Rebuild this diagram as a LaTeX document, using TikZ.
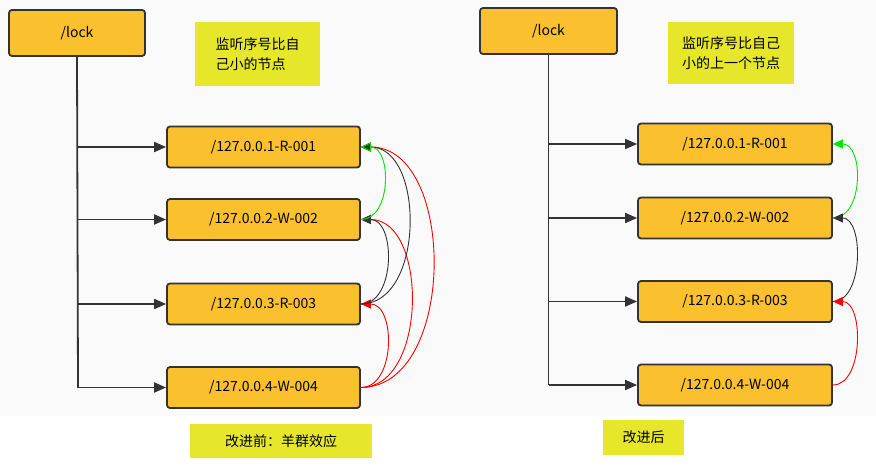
\documentclass[tikz,border=0pt]{standalone}
\usepackage{fontspec}
\setmainfont{Noto Sans CJK SC}
\usetikzlibrary{arrows.meta}
\definecolor{boxf}{RGB}{251,192,45}
\definecolor{dk}{RGB}{51,51,51}
\definecolor{lab}{RGB}{230,230,42}
\definecolor{gr}{RGB}{0,230,0}
\begin{document}
\begin{tikzpicture}[x=1pt,y=-1pt,
 box/.style={draw=dk,line width=1.8pt,fill=boxf,rounded corners=3pt,inner sep=0pt,font=\fontsize{14}{16}\selectfont},
 lbl/.style={fill=lab,inner sep=0pt,align=left,font=\fontsize{14}{20}\selectfont},
 br/.style={draw=dk,line width=1.8pt,-{Triangle[length=12pt,width=10pt]}},
 arc/.style={line width=0.9pt,-{Triangle[length=10pt,width=9pt]}}]
\useasboundingbox (0,0) rectangle (876,468);
\fill[white] (0,0) rectangle (876,468);
\fill[black!2] (0,0) rectangle (876,416);
% left panel
\node[box,minimum width=136pt,minimum height=46pt] (lk) at (77,33) {/lock};
\node[lbl,minimum width=125pt,minimum height=64pt] (l1) at (257.5,54) {监听序号比自\\己小的节点};
\foreach \i/\t/\y in {1/127.0.0.1-R-001/147,2/127.0.0.2-W-002/219.5,3/127.0.0.3-R-003/304,4/127.0.0.4-W-004/387.5}
  \node[box,minimum width=193pt,minimum height=41pt] (a\i) at (263.5,\y) {/\t};
\coordinate (ta) at (78,56);
\coordinate (tb) at (78,387.5);
\draw[dk,line width=1.8pt] (lk.south) -- (tb);
\foreach \i in {1,...,4} \draw[br] (lk.south |- a\i) -- (a\i.west);
\draw[arc,red] (a4.east) .. controls +(96,0) and +(96,0) .. (a1.east);
\draw[arc,red] (a4.east) .. controls +(67,0) and +(67,0) .. (a2.east);
\draw[arc,red] (a4.east) .. controls +(35,0) and +(35,0) .. (a3.east);
\draw[arc,dk] (a3.east) .. controls +(64,0) and +(64,0) .. (a1.east);
\draw[arc,dk] (a3.east) .. controls +(35,0) and +(35,0) .. (a2.east);
\draw[arc,gr,-{Triangle[length=10pt,width=9pt,fill=dk]}] (a2.east) .. controls +(31,0) and +(31,0) .. (a1.east);
\node[lbl,minimum width=182pt,minimum height=34pt,align=center] (c1) at (281,441) {改进前：羊群效应};
% right panel
\node[box,minimum width=137pt,minimum height=46pt] (rk) at (548.5,31) {/lock};
\node[lbl,minimum width=126pt,minimum height=62pt] (l2) at (731,53) {监听序号比自己\\小的上一个节点};
\foreach \i/\t/\y in {1/127.0.0.1-R-001/144,2/127.0.0.2-W-002/218,3/127.0.0.3-R-003/301.5,4/127.0.0.4-W-004/385}
  \node[box,minimum width=194pt,minimum height=41pt] (b\i) at (735,\y) {/\t};
\draw[dk,line width=1.8pt] (rk.south) -- (rk.south |- b4);
\foreach \i in {1,...,4} \draw[br] (rk.south |- b\i) -- (b\i.west);
\draw[arc,gr] (b2.east) .. controls +(31,0) and +(31,0) .. (b1.east);
\draw[arc,dk] (b3.east) .. controls +(31,0) and +(31,0) .. (b2.east);
\draw[arc,red] (b4.east) .. controls +(31,0) and +(31,0) .. (b3.east);
\node[lbl,minimum width=81pt,minimum height=35pt,align=center] (c2) at (643.5,437.5) {改进后};
\end{tikzpicture}
\end{document}
